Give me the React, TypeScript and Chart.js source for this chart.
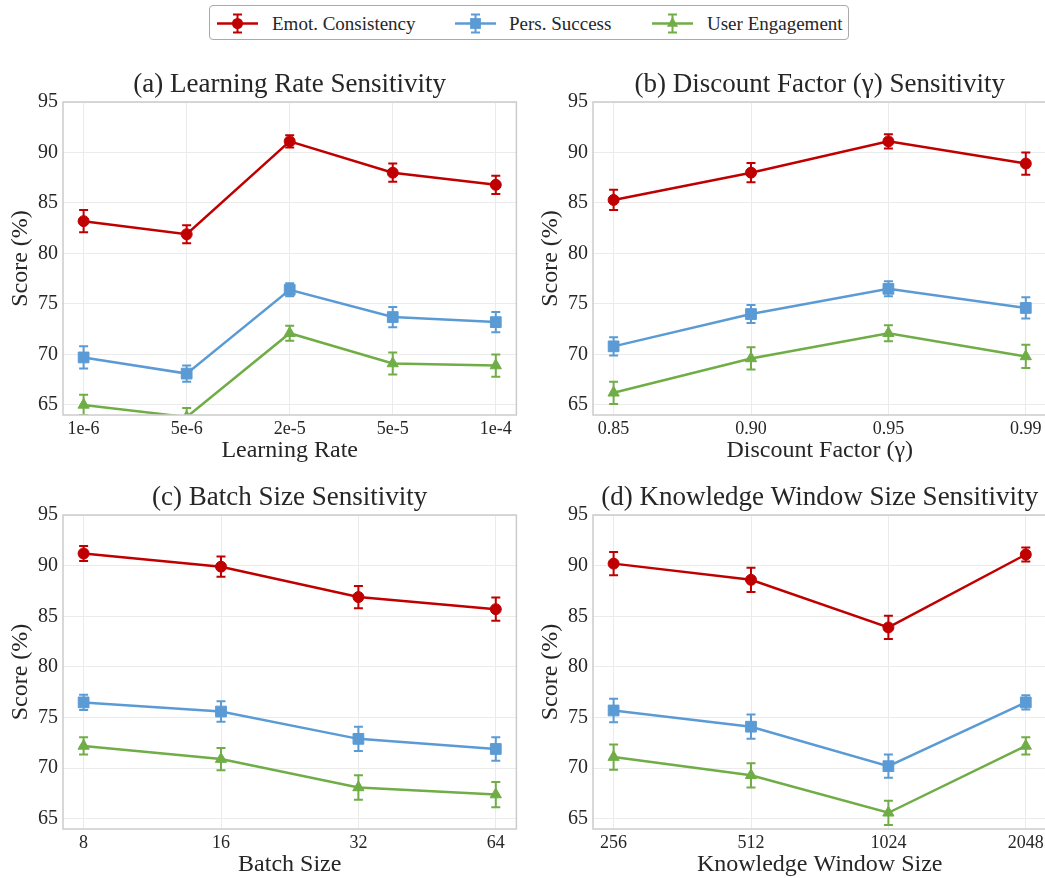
import React, { useEffect, useRef } from 'react';
import { Chart, registerables } from 'chart.js';

Chart.register(...registerables);

const FONT = "'Liberation Serif', 'Times New Roman', Times, serif";
const TEXT = '#262626';

const seriesNames = ['Emot. Consistency', 'Pers. Success', 'User Engagement'];
const seriesColors = ['#c00000', '#5b9bd5', '#70ad47'];
const markerStyles = ['circle', 'rect', 'triangle'];
const markerRadii = [5.5, 7.6, 6.5];

const yTicks = [65, 70, 75, 80, 85, 90, 95];

// (a) Learning rate
const lrLabels = ['1e-6', '5e-6', '2e-5', '5e-5', '1e-4'];
const lrEmo = [83.2, 81.9, 91.1, 88.0, 86.8];
const lrEmoErr = [1.1, 0.9, 0.6, 0.9, 0.9];
const lrPers = [69.7, 68.1, 76.4, 73.7, 73.2];
const lrPersErr = [1.1, 0.8, 0.65, 1.0, 1.0];
const lrEng = [65.0, 63.8, 72.1, 69.1, 68.9];
const lrEngErr = [1.0, 0.9, 0.75, 1.1, 1.1];

// (b) Discount factor
const gammaLabels = ['0.85', '0.90', '0.95', '0.99'];
const gammaEmo = [85.3, 88.0, 91.1, 88.9];
const gammaEmoErr = [1.0, 0.95, 0.7, 1.1];
const gammaPers = [70.8, 74.0, 76.5, 74.6];
const gammaPersErr = [0.9, 0.9, 0.75, 1.05];
const gammaEng = [66.2, 69.6, 72.1, 69.8];
const gammaEngErr = [1.1, 1.1, 0.8, 1.15];

// (c) Batch size
const bsLabels = ['8', '16', '32', '64'];
const bsEmo = [91.2, 89.9, 86.9, 85.7];
const bsEmoErr = [0.73, 1.0, 1.1, 1.15];
const bsPers = [76.5, 75.6, 72.9, 71.9];
const bsPersErr = [0.75, 1.0, 1.2, 1.15];
const bsEng = [72.2, 70.9, 68.1, 67.4];
const bsEngErr = [0.85, 1.1, 1.2, 1.25];

// (d) Knowledge window size
const kwLabels = ['256', '512', '1024', '2048'];
const kwEmo = [90.2, 88.6, 83.9, 91.1];
const kwEmoErr = [1.15, 1.2, 1.15, 0.7];
const kwPers = [75.7, 74.1, 70.2, 76.5];
const kwPersErr = [1.15, 1.2, 1.15, 0.7];
const kwEng = [71.1, 69.3, 65.6, 72.2];
const kwEngErr = [1.25, 1.2, 1.2, 0.85];

const errorBarPlugin = {
  id: 'errorBars',
  afterDatasetsDraw(chart: any) {
    const { ctx, chartArea } = chart;
    ctx.save();
    ctx.beginPath();
    ctx.rect(chartArea.left, chartArea.top, chartArea.right - chartArea.left, chartArea.bottom - chartArea.top);
    ctx.clip();
    chart.data.datasets.forEach((ds: any, i: number) => {
      const meta = chart.getDatasetMeta(i);
      const yScale = chart.scales[meta.yAxisID];
      ctx.strokeStyle = ds.borderColor;
      ctx.lineWidth = 2;
      meta.data.forEach((pt: any, j: number) => {
        const v = ds.data[j].y;
        const e = ds.errors[j];
        const y1 = yScale.getPixelForValue(v - e);
        const y2 = yScale.getPixelForValue(v + e);
        ctx.beginPath();
        ctx.moveTo(pt.x, y1);
        ctx.lineTo(pt.x, y2);
        ctx.moveTo(pt.x - 4.5, y1);
        ctx.lineTo(pt.x + 4.5, y1);
        ctx.moveTo(pt.x - 4.5, y2);
        ctx.lineTo(pt.x + 4.5, y2);
        ctx.stroke();
      });
    });
    ctx.restore();
  },
};

const framePlugin = {
  id: 'frame',
  afterDraw(chart: any) {
    const { ctx, chartArea } = chart;
    ctx.save();
    ctx.strokeStyle = '#cccccc';
    ctx.lineWidth = 1.5;
    ctx.strokeRect(chartArea.left, chartArea.top, chartArea.right - chartArea.left, chartArea.bottom - chartArea.top);
    ctx.restore();
  },
};

type PanelProps = {
  title: string;
  xTitle: string;
  labels: string[];
  values: number[][];
  errors: number[][];
  left: number;
  top: number;
  width: number;
  height: number;
};

function Panel({ title, xTitle, labels, values, errors, left, top, width, height }: PanelProps) {
  const ref = useRef<HTMLCanvasElement>(null);
  useEffect(() => {
    if (!ref.current) return;
    const n = labels.length;
    const chart = new Chart(ref.current, {
      type: 'line',
      data: {
        datasets: values.map((vals, s) => ({
          label: seriesNames[s],
          data: vals.map((v, i) => ({ x: i, y: v })),
          errors: errors[s],
          borderColor: seriesColors[s],
          backgroundColor: seriesColors[s],
          borderWidth: 2.5,
          pointStyle: markerStyles[s],
          pointRadius: markerRadii[s],
          pointBorderWidth: 1,
          pointBackgroundColor: seriesColors[s],
          pointBorderColor: seriesColors[s],
          tension: 0,
          clip: 0,
        })) as any,
      },
      options: {
        animation: false,
        responsive: false,
        events: [],
        layout: { padding: 0 },
        plugins: {
          legend: { display: false },
          tooltip: { enabled: false },
          title: {
            display: true,
            text: title,
            fullSize: false,
            color: TEXT,
            font: { family: FONT, size: 27, weight: 'normal' },
            padding: { top: 8.8, bottom: 0.8 },
          },
        },
        scales: {
          x: {
            type: 'linear',
            min: -0.05 * (n - 1),
            max: (n - 1) * 1.05,
            afterBuildTicks: (s: any) => {
              s.ticks = labels.map((_, i) => ({ value: i }));
            },
            afterFit: (s: any) => {
              s.height = 55;
            },
            ticks: {
              callback: (v: any) => labels[v] ?? '',
              color: TEXT,
              font: { family: FONT, size: 18 },
              padding: 3,
              maxRotation: 0,
              autoSkip: false,
            },
            grid: { color: '#ebebeb', lineWidth: 1, drawTicks: false },
            border: { display: false },
            title: {
              display: true,
              text: xTitle,
              color: TEXT,
              font: { family: FONT, size: 24 },
              padding: { top: 0, bottom: 4.6 },
            },
          },
          y: {
            type: 'linear',
            min: 64,
            max: 95,
            afterBuildTicks: (s: any) => {
              s.ticks = yTicks.map((v) => ({ value: v }));
            },
            afterFit: (s: any) => {
              s.width = 63;
            },
            ticks: {
              callback: (v: any) => String(v),
              color: TEXT,
              font: { family: FONT, size: 20 },
              padding: 5,
            },
            grid: { color: '#ebebeb', lineWidth: 1, drawTicks: false },
            border: { display: false },
            title: {
              display: true,
              text: 'Score (%)',
              color: TEXT,
              font: { family: FONT, size: 24 },
              padding: { top: 6.6, bottom: 0 },
            },
          },
        },
      } as any,
      plugins: [errorBarPlugin, framePlugin],
    });
    return () => chart.destroy();
  }, []);
  return (
    <canvas
      ref={ref}
      width={width}
      height={height}
      style={{ position: 'absolute', left, top, width, height }}
    />
  );
}

function LegendIcon({ idx, left }: { idx: number; left: number }) {
  const c = seriesColors[idx];
  const cx = 20.5;
  const cy = 17.5;
  let marker: React.ReactNode;
  if (idx === 0) marker = <circle cx={cx} cy={cy} r={5.5} fill={c} />;
  else if (idx === 1) marker = <rect x={cx - 5.4} y={cy - 5.4} width={10.8} height={10.8} fill={c} />;
  else marker = <polygon points={`${cx},${cy - 6.5} ${cx + 5.6},${cy + 3.3} ${cx - 5.6},${cy + 3.3}`} fill={c} />;
  return (
    <svg width={42} height={35} style={{ position: 'absolute', left, top: 0 }}>
      <line x1={0} y1={cy} x2={41} y2={cy} stroke={c} strokeWidth={2.5} />
      <line x1={cx} y1={cy - 9} x2={cx} y2={cy + 9} stroke={c} strokeWidth={2} />
      <line x1={cx - 4.5} y1={cy - 9} x2={cx + 4.5} y2={cy - 9} stroke={c} strokeWidth={2} />
      <line x1={cx - 4.5} y1={cy + 9} x2={cx + 4.5} y2={cy + 9} stroke={c} strokeWidth={2} />
      {marker}
    </svg>
  );
}

function Legend() {
  const iconLefts = [7, 245, 442];
  const textLefts = [62, 299, 497];
  return (
    <div
      style={{
        position: 'absolute',
        left: 209,
        top: 5,
        width: 638,
        height: 33,
        border: '1px solid #aaaaaa',
        borderRadius: 4,
        background: '#ffffff',
        boxSizing: 'content-box',
      }}
    >
      {seriesNames.map((name, i) => (
        <React.Fragment key={name}>
          <LegendIcon idx={i} left={iconLefts[i]} />
          <span
            style={{
              position: 'absolute',
              left: textLefts[i],
              top: 0,
              height: 35,
              lineHeight: '35px',
              fontFamily: FONT,
              fontSize: 19,
              color: TEXT,
              whiteSpace: 'nowrap',
            }}
          >
            {name}
          </span>
        </React.Fragment>
      ))}
    </div>
  );
}

export default function App() {
  return (
    <div
      style={{
        position: 'absolute',
        left: 0,
        top: 0,
        width: 1045,
        height: 878,
        overflow: 'hidden',
        background: '#ffffff',
      }}
    >
      <Legend />
      <Panel
        title="(a) Learning Rate Sensitivity"
        xTitle="Learning Rate"
        labels={lrLabels}
        values={[lrEmo, lrPers, lrEng]}
        errors={[lrEmoErr, lrPersErr, lrEngErr]}
        left={0}
        top={60}
        width={525}
        height={410}
      />
      <Panel
        title="(b) Discount Factor (γ) Sensitivity"
        xTitle="Discount Factor (γ)"
        labels={gammaLabels}
        values={[gammaEmo, gammaPers, gammaEng]}
        errors={[gammaEmoErr, gammaPersErr, gammaEngErr]}
        left={530}
        top={60}
        width={525}
        height={410}
      />
      <Panel
        title="(c) Batch Size Sensitivity"
        xTitle="Batch Size"
        labels={bsLabels}
        values={[bsEmo, bsPers, bsEng]}
        errors={[bsEmoErr, bsPersErr, bsEngErr]}
        left={0}
        top={473}
        width={525}
        height={411}
      />
      <Panel
        title="(d) Knowledge Window Size Sensitivity"
        xTitle="Knowledge Window Size"
        labels={kwLabels}
        values={[kwEmo, kwPers, kwEng]}
        errors={[kwEmoErr, kwPersErr, kwEngErr]}
        left={530}
        top={473}
        width={525}
        height={411}
      />
    </div>
  );
}
